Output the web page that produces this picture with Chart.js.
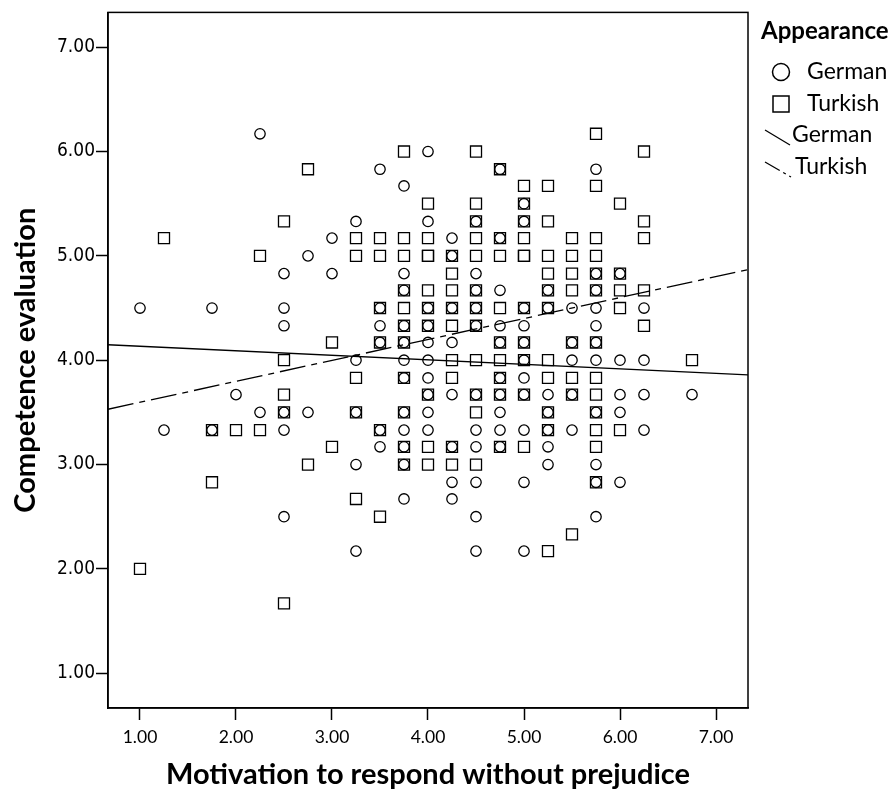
<!DOCTYPE html>
<html><head><meta charset="utf-8">
<script src="https://cdn.jsdelivr.net/npm/chart.js@4"></script>
<style>html,body{margin:0;padding:0;background:#fff}#wrap{width:896px;height:791px}</style>
</head><body><div id="wrap"><canvas id="c" width="896" height="791"></canvas></div>
<script>
// ---- data ----
const xLevels = [1.00, 1.25, 1.75, 2.00, 2.25, 2.50, 2.75, 3.00, 3.25, 3.50, 3.75, 4.00, 4.25, 4.50, 4.75, 5.00, 5.25, 5.50, 5.75, 6.00, 6.25, 6.75];
const germanByX = [
  [4.50],
  [3.33],
  [4.50, 3.33],
  [3.67],
  [6.17, 3.50],
  [4.83, 4.50, 4.33, 3.50, 3.33, 2.50],
  [5.00, 3.50],
  [5.17, 4.83],
  [5.33, 4.00, 3.50, 3.00, 2.17],
  [5.83, 4.50, 4.33, 4.17, 3.33, 3.17],
  [5.67, 4.83, 4.67, 4.33, 4.17, 4.00, 3.83, 3.50, 3.33, 3.17, 3.00, 2.67],
  [6.00, 5.33, 4.50, 4.33, 4.17, 4.00, 3.83, 3.67, 3.50, 3.33],
  [5.17, 5.00, 4.50, 4.17, 3.67, 3.17, 2.83, 2.67],
  [5.33, 4.83, 4.67, 4.50, 4.33, 3.67, 3.33, 3.17, 2.83, 2.50, 2.17],
  [5.83, 5.17, 4.67, 4.33, 4.17, 3.83, 3.67, 3.50, 3.33, 3.17],
  [5.50, 5.33, 4.50, 4.33, 4.17, 4.00, 3.83, 3.67, 3.33, 2.83, 2.17],
  [4.67, 4.50, 3.67, 3.50, 3.33, 3.17, 3.00],
  [4.50, 4.17, 4.00, 3.67, 3.33],
  [5.83, 4.83, 4.67, 4.50, 4.33, 4.17, 4.00, 3.50, 3.00, 2.83, 2.50],
  [4.83, 4.00, 3.67, 3.50, 2.83],
  [4.50, 4.00, 3.67, 3.33],
  [3.67]
];
const turkishByX = [
  [2.00],
  [5.17],
  [3.33, 2.83],
  [3.33],
  [5.00, 3.33],
  [5.33, 4.00, 3.67, 3.50, 1.67],
  [5.83, 3.00],
  [4.17, 3.17],
  [5.17, 5.00, 3.83, 3.50, 2.67],
  [5.17, 5.00, 4.50, 4.17, 3.33, 2.50],
  [6.00, 5.17, 5.00, 4.67, 4.50, 4.33, 4.17, 3.83, 3.50, 3.17, 3.00],
  [5.50, 5.17, 5.00, 5.00, 4.67, 4.50, 4.33, 3.67, 3.17, 3.00],
  [5.00, 4.83, 4.67, 4.50, 4.33, 4.00, 3.83, 3.17, 3.00],
  [6.00, 5.50, 5.33, 5.17, 5.00, 4.67, 4.50, 4.33, 4.00, 3.67, 3.50, 3.00],
  [5.83, 5.17, 5.00, 4.50, 4.17, 4.00, 3.83, 3.67, 3.17],
  [5.67, 5.50, 5.33, 5.17, 5.00, 5.00, 4.50, 4.17, 4.00, 3.67, 3.17],
  [5.67, 5.33, 5.00, 4.83, 4.67, 4.50, 4.00, 3.83, 3.50, 3.33, 2.17],
  [5.17, 5.00, 4.83, 4.67, 4.17, 3.83, 3.67, 2.33],
  [6.17, 5.67, 5.17, 5.00, 4.83, 4.67, 4.17, 3.83, 3.67, 3.50, 3.33, 3.17, 2.83],
  [5.50, 4.83, 4.67, 4.50, 3.33],
  [6.00, 5.33, 5.17, 4.67, 4.33],
  [4.00]
];
// linear fit lines (intercept, slope) for German, Turkish
const fitIntercept = [4.177, 3.396];
const fitSlope = [-0.0432, 0.2007];
const axisRange = [0.6667, 7.3333];
const xTickValues = [1, 2, 3, 4, 5, 6, 7];
const xTickLabels = ['1.00', '2.00', '3.00', '4.00', '5.00', '6.00', '7.00'];
const yTickValues = [1, 2, 3, 4, 5, 6, 7];
const yTickLabels = ['1.00', '2.00', '3.00', '4.00', '5.00', '6.00', '7.00'];
const xTitle = 'Motivation to respond without prejudice';
const yTitle = 'Competence evaluation';
const legendTitle = 'Appearance';
const legendLabels = ['German', 'Turkish', 'German', 'Turkish'];

// ---- build ----
function toPoints(byX) {
  const pts = [];
  byX.forEach((ys, i) => ys.forEach(y => pts.push({x: xLevels[i], y: y})));
  return pts;
}
function fitPoints(k) {
  return axisRange.map(x => ({x: x, y: fitIntercept[k] + fitSlope[k] * x}));
}
const dashDot = [26, 6, 6, 6];

const framePlugin = {
  id: 'frameLegend',
  afterDraw(chart) {
    const {ctx, chartArea: a} = chart;
    ctx.save();
    ctx.strokeStyle = '#000';
    ctx.lineWidth = 1.5;
    ctx.strokeRect(a.left, a.top, a.right - a.left, a.bottom - a.top);
    // legend
    const lx = a.right;
    ctx.fillStyle = '#000';
    ctx.textBaseline = 'middle';
    ctx.textAlign = 'left';
    ctx.font = 'bold 24px Lato';
    ctx.fillText(legendTitle, lx + 13, 31);
    ctx.font = '23px Lato';
    const rows = [72, 104, 135, 167];
    // circle
    ctx.lineWidth = 1.5;
    ctx.beginPath(); ctx.arc(lx + 33, rows[0], 8.5, 0, Math.PI * 2); ctx.stroke();
    ctx.fillText(legendLabels[0], lx + 59, rows[0]);
    // square
    ctx.strokeRect(lx + 25, rows[1] - 8, 16, 16);
    ctx.fillText(legendLabels[1], lx + 59, rows[1]);
    // solid line
    ctx.lineWidth = 1.3;
    ctx.beginPath(); ctx.moveTo(lx + 17, rows[2] - 5); ctx.lineTo(lx + 42, rows[2] + 10); ctx.stroke();
    ctx.fillText(legendLabels[2], lx + 44, rows[2]);
    // dash-dot line
    ctx.setLineDash([17, 4, 3, 4]);
    ctx.beginPath(); ctx.moveTo(lx + 17, rows[3] - 5); ctx.lineTo(lx + 43, rows[3] + 10); ctx.stroke();
    ctx.setLineDash([]);
    ctx.fillText(legendLabels[3], lx + 47, rows[3]);
    ctx.restore();
  }
};

Chart.defaults.font.family = 'Lato';
Chart.defaults.color = '#000';

new Chart(document.getElementById('c'), {
  type: 'scatter',
  data: {
    datasets: [
      {label: 'German fit', data: fitPoints(0), showLine: true, pointRadius: 0, borderColor: '#000', borderWidth: 1.3, fill: false},
      {label: 'Turkish fit', data: fitPoints(1), showLine: true, pointRadius: 0, borderColor: '#000', borderWidth: 1.3, borderDash: dashDot, fill: false},
      {label: 'German', data: toPoints(germanByX), pointStyle: 'circle', pointRadius: 5.2, borderColor: '#000', backgroundColor: 'rgba(0,0,0,0)', borderWidth: 1.3},
      {label: 'Turkish', data: toPoints(turkishByX), pointStyle: 'rect', pointRadius: 7.8, borderColor: '#000', backgroundColor: 'rgba(0,0,0,0)', borderWidth: 1.3}
    ]
  },
  options: {
    responsive: false,
    animation: false,
    devicePixelRatio: 1,
    events: [],
    layout: {padding: {top: 8, right: 148, left: 0, bottom: 0}},
    plugins: {legend: {display: false}, tooltip: {enabled: false}},
    scales: {
      x: {
        type: 'linear', min: axisRange[0], max: axisRange[1],
        afterFit: s => { s.height = 83; },
        afterBuildTicks: s => { s.ticks = xTickValues.map(v => ({value: v})); },
        ticks: {callback: (v) => xTickLabels[xTickValues.indexOf(v)], font: {family: 'Lato', size: 17.5}, padding: 7, maxRotation: 0, autoSkip: false, color: '#000'},
        grid: {drawOnChartArea: false, drawTicks: true, tickLength: 12, tickColor: '#000', tickWidth: 1.5},
        border: {display: true, color: '#000', width: 1.5},
        title: {display: true, text: xTitle, font: {family: 'Lato', size: 29, weight: 'bold', lineHeight: 1.1}, padding: {top: 0, bottom: 0}, color: '#000'}
      },
      y: {
        type: 'linear', min: axisRange[0], max: axisRange[1],
        afterFit: s => { s.width = 108; },
        afterBuildTicks: s => { s.ticks = yTickValues.map(v => ({value: v})); },
        ticks: {callback: (v) => yTickLabels[yTickValues.indexOf(v)], font: {family: 'DejaVu Sans Condensed', size: 19}, padding: 1, autoSkip: false, color: '#000'},
        grid: {drawOnChartArea: false, drawTicks: true, tickLength: 12, tickColor: '#000', tickWidth: 1.5},
        border: {display: true, color: '#000', width: 1.5},
        title: {display: true, text: yTitle, font: {family: 'Lato', size: 29, weight: 'bold', lineHeight: 1.1}, padding: {top: 10, bottom: 0}, color: '#000'}
      }
    }
  },
  plugins: [framePlugin]
});
</script>
</body></html>
